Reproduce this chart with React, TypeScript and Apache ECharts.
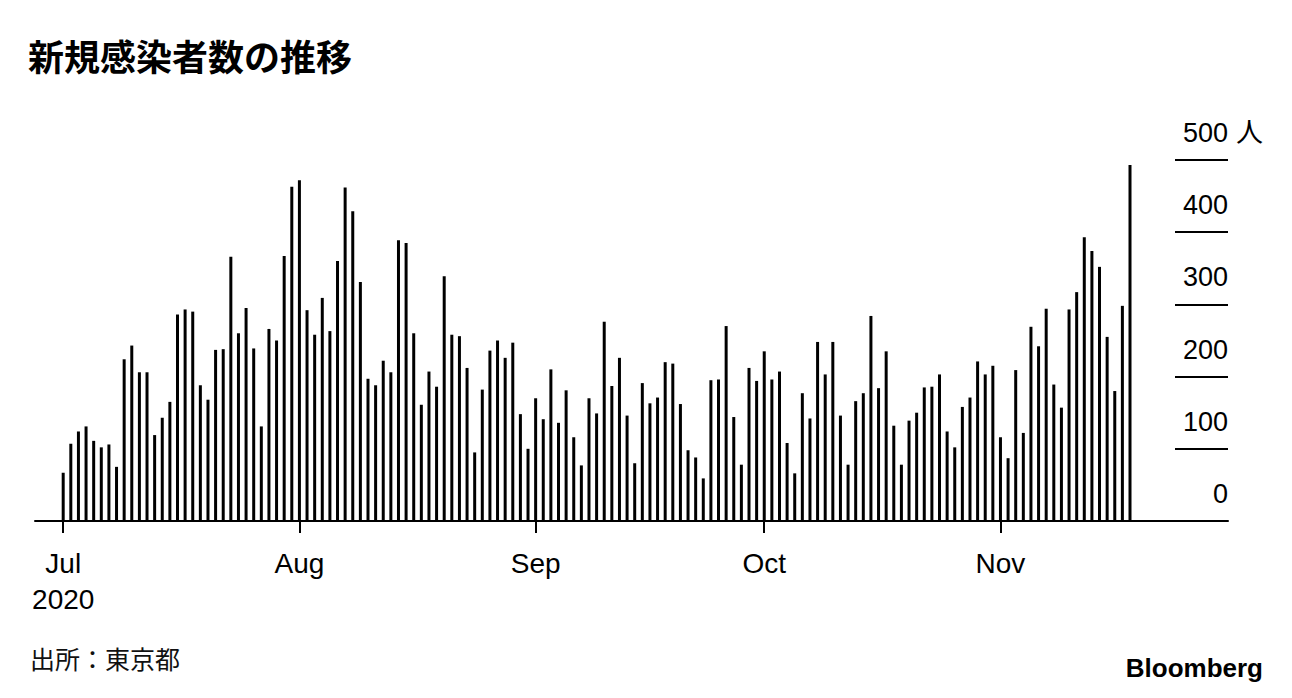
import React, { useEffect, useRef } from "react";
import * as echarts from "echarts";

// Daily new cases in Tokyo, Jul 1 – Nov 18, 2020
const julCases = [67, 107, 124, 131, 111, 102, 106, 75, 224, 243, 206, 206, 119, 143, 165, 286, 293, 290, 188, 168, 237, 238, 366, 260, 295, 239, 131, 266, 250, 367, 463];
const augCases = [472, 292, 258, 309, 263, 360, 462, 429, 331, 197, 188, 222, 206, 389, 385, 260, 161, 207, 186, 339, 258, 256, 212, 95, 182, 236, 250, 226, 247, 148, 100];
const sepCases = [170, 141, 210, 136, 181, 116, 77, 170, 149, 276, 187, 226, 146, 80, 191, 163, 171, 220, 218, 162, 98, 88, 59, 195, 196, 270, 144, 78, 212, 194];
const octCases = [235, 196, 207, 108, 66, 177, 142, 248, 203, 248, 146, 78, 166, 177, 284, 184, 235, 132, 78, 139, 150, 185, 186, 203, 124, 102, 158, 171, 221, 203, 215];
const novCases = [116, 87, 209, 122, 269, 242, 294, 189, 157, 293, 317, 393, 374, 352, 255, 180, 298, 493];

const monthLabels = ["Jul", "Aug", "Sep", "Oct", "Nov"];
const monthStartIndex = [0, 31, 62, 92, 123];
const yTicks = [0, 100, 200, 300, 400, 500];

const allCases = [...julCases, ...augCases, ...sepCases, ...octCases, ...novCases];

export default function App() {
  const ref = useRef<HTMLDivElement>(null);
  useEffect(() => {
    if (!ref.current) return;
    const chart = echarts.init(ref.current, null, { renderer: "svg" });
    const font = "'Liberation Sans', Arial, Helvetica, sans-serif";
    const cjk = "'Noto Sans CJK JP', 'Noto Sans', sans-serif";
    chart.setOption({
      animation: false,
      backgroundColor: "#ffffff",
      grid: { left: 35, right: 64, top: 160, bottom: 177, containLabel: false },
      xAxis: {
        type: "value",
        min: -3.7,
        max: 152.86,
        splitLine: { show: false },
        axisLine: { show: true, onZero: false, lineStyle: { color: "#000", width: 2 } },
        axisTick: {
          show: true,
          customValues: monthStartIndex,
          length: 12,
          lineStyle: { color: "#000", width: 2 },
        },
        axisLabel: {
          show: true,
          customValues: monthStartIndex,
          margin: 24,
          fontSize: 28,
          lineHeight: 36,
          color: "#000",
          fontFamily: font,
          formatter: (v: number) => {
            const i = monthStartIndex.indexOf(Math.round(v));
            if (i < 0) return "";
            return i === 0 ? monthLabels[i] + "\n2020" : monthLabels[i];
          },
        },
      },
      yAxis: {
        type: "value",
        position: "right",
        min: 0,
        max: 500,
        interval: 100,
        axisLine: { show: false, onZero: false },
        splitLine: { show: false },
        axisTick: { show: true, inside: true, length: 53, lineStyle: { color: "#000", width: 2 } },
        axisLabel: {
          inside: true,
          margin: 0,
          fontSize: 27,
          color: "#000",
          fontFamily: font,
          verticalAlign: "bottom",
          lineHeight: 30,
          padding: [0, 0, 12, 0],
          showMinLabel: true,
          showMaxLabel: true,
          formatter: (v: number) => (yTicks.includes(v) ? String(v) : ""),
        },
      },
      series: [
        {
          type: "bar",
          barWidth: 3,
          itemStyle: { color: "#000" },
          data: allCases.map((v, i) => [i, v]),
        },
      ],
      graphic: [
        {
          type: "text",
          left: 28,
          top: 37,
          style: { text: "新規感染者数の推移", fontSize: 36, fontWeight: "bold", fill: "#000", fontFamily: cjk },
        },
        {
          type: "text",
          left: 1236,
          top: 117,
          style: { text: "人", fontSize: 27, fill: "#000", fontFamily: cjk },
        },
        {
          type: "text",
          left: 30,
          top: 645,
          style: { text: "出所：東京都", fontSize: 25, fill: "#111", fontFamily: cjk },
        },
        {
          type: "text",
          right: 29,
          top: 655,
          style: { text: "Bloomberg", fontSize: 26, fontWeight: 900, fill: "#000", fontFamily: font },
        },
      ],
    });
    return () => chart.dispose();
  }, []);
  return (
    <div
      ref={ref}
      style={{ position: "fixed", left: 0, top: 0, width: 1292, height: 698, background: "#fff" }}
    />
  );
}
